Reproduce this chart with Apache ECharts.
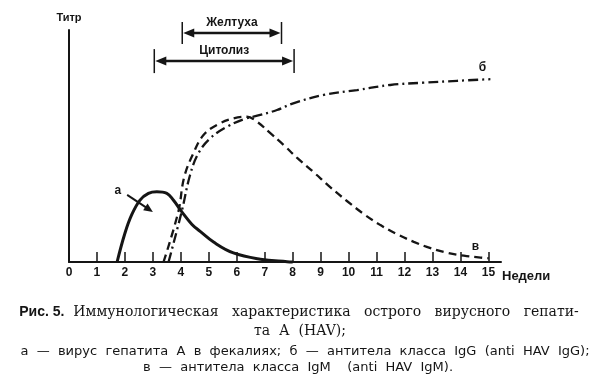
<!DOCTYPE html>
<html><head><meta charset="utf-8">
<script src="https://cdn.jsdelivr.net/npm/echarts@6/dist/echarts.min.js"></script>
<style>html,body{margin:0;padding:0;background:#fff}#c{width:600px;height:388px}</style>
</head><body><div id="c"></div>
<script>
// ---- data ----
const weekTicks = [0,1,2,3,4,5,6,7,8,9,10,11,12,13,14,15];
// а — вирус гепатита А в фекалиях (solid)
const virusX = [1.72, 2.00, 2.24, 2.54, 2.84, 3.14, 3.50, 3.73, 4.03, 4.39, 4.69, 5.17, 5.88, 6.84, 7.80, 8.0];
const virusY = [0, 12.4, 20.3, 26.7, 29.6, 30.3, 29.6, 26.7, 21.7, 16.3, 13.2, 8.6, 3.9, 1.2, 0.1, 0];
// б — антитела IgG (dash-dot)
const iggX = [3.56, 4.03, 4.33, 4.63, 5.05, 5.65, 6.24, 6.84, 7.44, 8.02, 9.11, 10.30, 11.49, 12.69, 13.88, 15.07];
const iggY = [0, 21.7, 37.5, 46.9, 53.3, 58.3, 61.5, 63.4, 65.5, 68.4, 72.0, 74.1, 76.3, 77.3, 78.1, 78.8];
// в — антитела IgM (dashed)
const igmX = [3.38, 3.91, 4.12, 4.45, 4.81, 5.29, 5.88, 6.36, 6.72, 7.20, 7.67, 8.15, 8.75, 9.34, 9.94, 10.54, 11.14, 11.73, 12.33, 12.93, 13.52, 14.12, 14.72, 15.01];
const igmY = [0, 21.7, 36.6, 46.9, 54.7, 59.1, 61.9, 62.6, 60.5, 55.5, 50.5, 45.0, 38.7, 32.3, 26.3, 20.7, 15.9, 12.0, 8.7, 6.0, 4.0, 2.7, 1.9, 1.6];
// periods shown with double arrows
const periodNames = ['Желтуха', 'Цитолиз'];
const periodFrom = [4.05, 3.05];
const periodTo = [7.6, 8.05];
const periodLevel = [98.7, 86.6];
// curve letters
const curveLetters = ['а', 'б', 'в'];
const letterX = [1.75, 14.79, 14.54];
const letterY = [30.6, 83.6, 6.5];
// pointer arrow for curve "а"
const pointerFrom = [2.08, 28.9];
const pointerTo = [3.0, 21.6];
// caption
const captionLines = [
  '{b|Рис. 5.}  Иммунологическая   характеристика   острого   вирусного   гепати-',
  'та  А  (HAV);',
  'а  —  вирус  гепатита  А  в  фекалиях;  б  —  антитела  класса  IgG  (anti  HAV  IgG);',
  'в  —  антитела  класса  IgM    (anti  HAV  IgM).'
];

const zip = (xs, ys) => xs.map((x, i) => [x, ys[i]]);
const INK = '#151515';

const chart = echarts.init(document.getElementById('c'), null, {renderer: 'canvas'});
const option = {
  animation: false,
  backgroundColor: '#fff',
  grid: {left: 69, right: 99, top: 30, bottom: 126},
  xAxis: {
    type: 'value', min: 0, max: 15.45, interval: 1,
    name: 'Недели', nameLocation: 'end', nameGap: 1,
    nameTextStyle: {color: INK, fontSize: 13, fontWeight: 'bold', fontFamily: 'Liberation Sans', verticalAlign: 'top', padding: [8, 0, 0, 0]},
    axisLine: {lineStyle: {color: INK, width: 2}},
    axisTick: {inside: true, length: 10, lineStyle: {color: INK, width: 1.5}, customValues: weekTicks},
    axisLabel: {customValues: weekTicks, margin: 5, color: INK, fontSize: 12, fontWeight: 'bold', fontFamily: 'Liberation Sans'},
    splitLine: {show: false}
  },
  yAxis: {
    type: 'value', min: 0, max: 100,
    name: 'Титр', nameLocation: 'end', nameGap: 7,
    nameTextStyle: {color: INK, fontSize: 11, fontWeight: 'bold', fontFamily: 'Liberation Sans', align: 'center'},
    axisLine: {show: true, lineStyle: {color: INK, width: 2}},
    axisTick: {show: false}, axisLabel: {show: false}, splitLine: {show: false}
  },
  series: [
    {type: 'line', name: 'а', data: zip(virusX, virusY), smooth: 0.4, symbol: 'none', clip: false,
     lineStyle: {color: INK, width: 3}},
    {type: 'line', name: 'б', data: zip(iggX, iggY), smooth: 0.4, symbol: 'none', clip: false,
     lineStyle: {color: INK, width: 2.3, type: [10, 4, 2, 4]}},
    {type: 'line', name: 'в', data: zip(igmX, igmY), smooth: 0.4, symbol: 'none', clip: false,
     lineStyle: {color: INK, width: 2.3, type: [8, 5]}}
  ]
};
chart.setOption(option);

const P = (x, y) => chart.convertToPixel({gridIndex: 0}, [x, y]);
const els = [];
function arrowHead(tip, dir, len, half) {
  const [dx, dy] = dir; const n = Math.hypot(dx, dy); const ux = dx / n, uy = dy / n;
  const bx = tip[0] - ux * len, by = tip[1] - uy * len;
  return {type: 'polygon', shape: {points: [tip, [bx - uy * half, by + ux * half], [bx + uy * half, by - ux * half]]}, style: {fill: INK}};
}
periodNames.forEach((name, i) => {
  const a = P(periodFrom[i], periodLevel[i]);
  const b = P(periodTo[i], periodLevel[i]);
  const h = i === 0 ? 11 : 12;
  els.push({type: 'line', shape: {x1: a[0] + 6, y1: a[1], x2: b[0] - 6, y2: b[1]}, style: {stroke: INK, lineWidth: 2.5}});
  els.push(arrowHead([a[0] + 1, a[1]], [-1, 0], 11, 4.5));
  els.push(arrowHead([b[0] - 1, b[1]], [1, 0], 11, 4.5));
  els.push({type: 'line', shape: {x1: a[0], y1: a[1] - h, x2: a[0], y2: a[1] + h}, style: {stroke: INK, lineWidth: 1.5}});
  els.push({type: 'line', shape: {x1: b[0], y1: b[1] - h, x2: b[0], y2: b[1] + h}, style: {stroke: INK, lineWidth: 1.5}});
  els.push({type: 'text', x: (a[0] + b[0]) / 2, y: a[1] - 10, style: {text: name, fill: INK, font: 'bold 12px "Liberation Sans"', align: 'center', verticalAlign: 'middle'}});
});
curveLetters.forEach((t, i) => {
  const p = P(letterX[i], letterY[i]);
  els.push({type: 'text', x: p[0], y: p[1], style: {text: t, fill: INK, font: 'bold 12px "Liberation Sans"', align: 'center', verticalAlign: 'middle'}});
});
{
  const s = P(pointerFrom[0], pointerFrom[1]);
  const e = P(pointerTo[0], pointerTo[1]);
  const dx = e[0] - s[0], dy = e[1] - s[1], n = Math.hypot(dx, dy);
  els.push({type: 'line', shape: {x1: s[0], y1: s[1], x2: e[0] - dx / n * 6, y2: e[1] - dy / n * 6}, style: {stroke: INK, lineWidth: 2}});
  els.push(arrowHead(e, [dx, dy], 9, 4));
}
const capY = [312, 331, 352, 368];
const capX = [299, 300, 305, 298];
captionLines.forEach((t, i) => {
  const serif = i < 2;
  els.push({type: 'text', x: capX[i], y: capY[i], style: {
    text: t, fill: INK, align: 'center', verticalAlign: 'middle',
    font: serif ? '14px "DejaVu Serif"' : '13px "DejaVu Sans"',
    rich: {b: {font: 'bold 14px "Liberation Sans"', fill: INK}}
  }});
});
chart.setOption({graphic: {elements: els}});
</script>
</body></html>
